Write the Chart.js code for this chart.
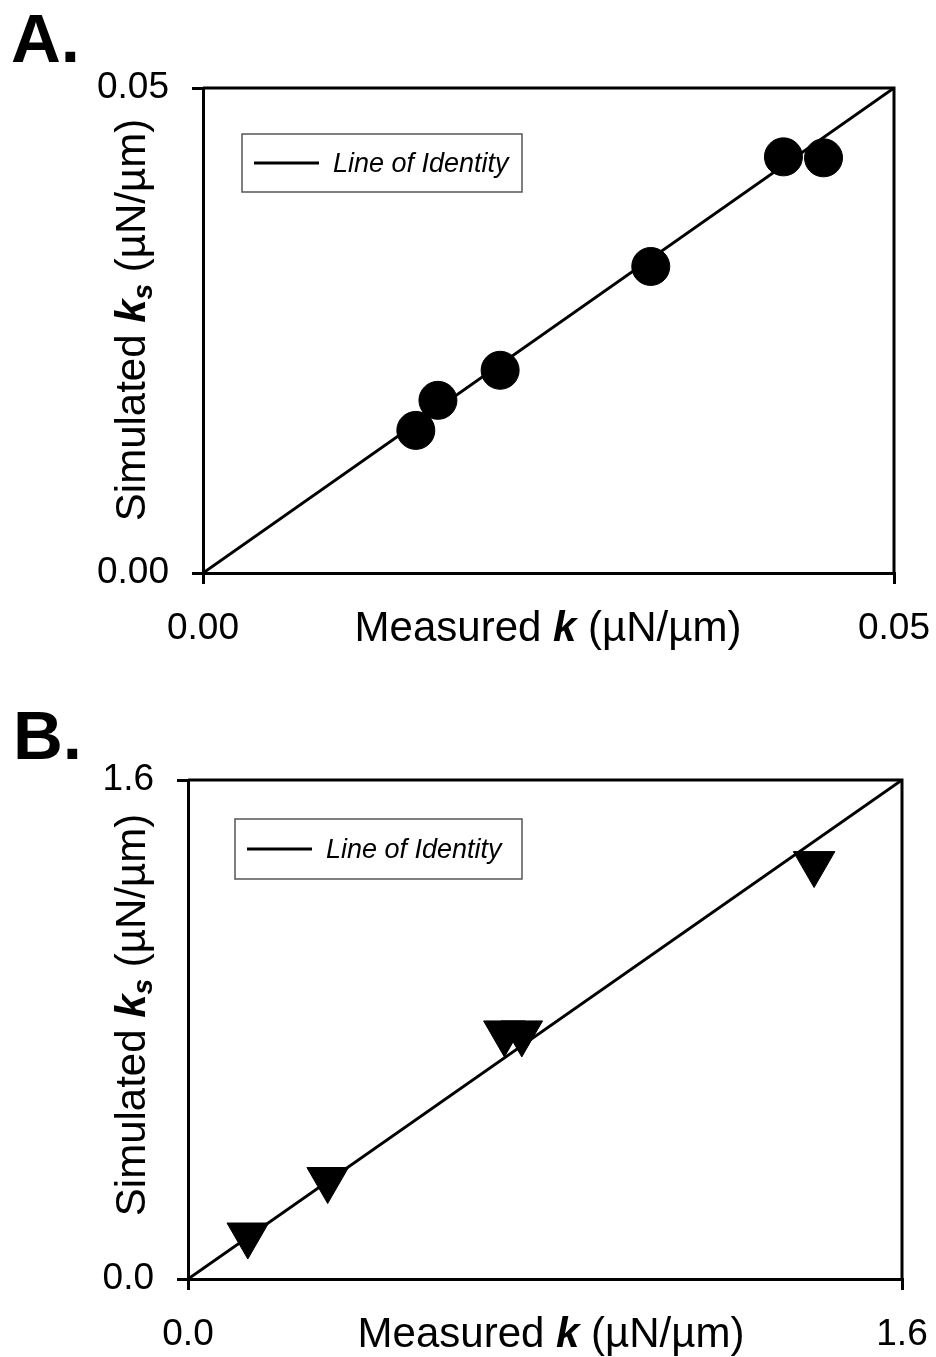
<!DOCTYPE html>
<html>
<head>
<meta charset="utf-8">
<title>Measured vs simulated k</title>
<script src="https://cdn.jsdelivr.net/npm/chart.js@4/dist/chart.umd.min.js"></script>
<style>
  body { margin: 0; background: #fff; }
  canvas { display: block; }
</style>
</head>
<body>
<canvas id="panelA" width="936" height="690"></canvas>
<canvas id="panelB" width="936" height="667"></canvas>
<script>
// panel A: spring constants, circles
const measuredA = [0.0154, 0.0170, 0.0215, 0.0324, 0.0420, 0.0449];
const simulatedA = [0.0147, 0.0178, 0.0209, 0.0316, 0.0429, 0.0428];
const axisMaxA = 0.05;

// panel B: spring constants, triangles
const measuredB = [0.134, 0.313, 0.709, 0.748, 1.403];
const simulatedB = [0.141, 0.319, 0.789, 0.789, 1.332];
const axisMaxB = 1.6;

const identityLabel = "Line of Identity";
const FONT = "'Liberation Sans', Arial, Helvetica, sans-serif";

// draws a run of text pieces with different fonts
function drawRich(ctx, parts, x, y) {
  let total = 0;
  parts.forEach(p => { ctx.font = p.font; total += ctx.measureText(p.text).width; });
  let cx = x - total / 2;
  parts.forEach(p => {
    ctx.font = p.font;
    ctx.fillText(p.text, cx, y + (p.dy || 0));
    cx += ctx.measureText(p.text).width;
  });
}

function extras(opts) {
  return {
    id: 'extras',
    afterDraw(chart) {
      const ctx = chart.ctx;
      const a = chart.chartArea;
      ctx.save();
      // frame (top & right sides)
      ctx.strokeStyle = '#000';
      ctx.lineWidth = 3;
      ctx.beginPath();
      ctx.moveTo(a.left, a.top);
      ctx.lineTo(a.right, a.top);
      ctx.lineTo(a.right, a.bottom);
      ctx.stroke();

      // legend box
      const lx = a.left + opts.legX, ly = a.top + opts.legY;
      ctx.fillStyle = '#fff';
      ctx.fillRect(lx, ly, opts.legW, opts.legH);
      ctx.strokeStyle = '#555';
      ctx.lineWidth = 1.5;
      ctx.strokeRect(lx, ly, opts.legW, opts.legH);
      ctx.strokeStyle = '#000';
      ctx.lineWidth = 3;
      ctx.beginPath();
      ctx.moveTo(lx + 12, ly + opts.legH / 2);
      ctx.lineTo(lx + 77, ly + opts.legH / 2);
      ctx.stroke();
      ctx.fillStyle = '#000';
      ctx.font = 'italic 27px ' + FONT;
      ctx.textBaseline = 'middle';
      ctx.textAlign = 'left';
      ctx.fillText(identityLabel, lx + 91, ly + opts.legH / 2 + 1);

      // panel letter
      ctx.textBaseline = 'alphabetic';
      ctx.font = 'bold 69px ' + FONT;
      ctx.fillText(opts.letter, opts.letterX, opts.letterY);

      // x title
      const norm = '42px ' + FONT, bi = 'italic bold 42px ' + FONT;
      drawRich(ctx, [
        { text: 'Measured ', font: norm },
        { text: 'k', font: bi },
        { text: ' (\u00b5N/\u00b5m)', font: norm }
      ], opts.xTitleX, opts.xTitleY);

      // y title, rotated
      ctx.translate(opts.yTitleX, opts.yTitleY);
      ctx.rotate(-Math.PI / 2);
      drawRich(ctx, [
        { text: 'Simulated ', font: norm },
        { text: 'k', font: bi },
        { text: 's', font: 'italic bold 28px ' + FONT, dy: 7 },
        { text: ' (\u00b5N/\u00b5m)', font: norm }
      ], 0, 0);
      ctx.restore();
    }
  };
}

function makePanel(id, xs, ys, max, decimals, marker, layout) {
  const pts = xs.map((x, i) => ({ x: x, y: ys[i] }));
  const tickFont = { family: FONT, size: 37 };
  const axis = (fit) => ({
    type: 'linear',
    min: 0,
    max: max,
    afterFit: fit,
    ticks: {
      stepSize: max,
      autoSkip: false,
      maxRotation: 0,
      color: '#000',
      font: tickFont,
      padding: 23,
      callback: v => Number(v).toFixed(decimals)
    },
    grid: { drawOnChartArea: false, drawTicks: true, tickLength: 11, color: '#000', lineWidth: 3 },
    border: { display: true, color: '#000', width: 3 }
  });

  return new Chart(document.getElementById(id), {
    type: 'scatter',
    data: {
      datasets: [
        {
          type: 'line',
          label: identityLabel,
          data: [{ x: 0, y: 0 }, { x: max, y: max }],
          borderColor: '#000',
          borderWidth: 3,
          pointRadius: 0,
          order: 2
        },
        {
          label: 'data',
          data: pts,
          pointStyle: marker.style,
          rotation: marker.rotation,
          pointRadius: marker.radius,
          backgroundColor: '#000',
          borderColor: '#000',
          borderWidth: 1,
          order: 1
        }
      ]
    },
    options: {
      responsive: false,
      animation: false,
      layout: { padding: { left: 0, right: layout.right, top: layout.top, bottom: 0 } },
      plugins: { legend: { display: false }, tooltip: { enabled: false } },
      scales: {
        x: axis(s => {
          s.height = layout.xAxisH;
          s.paddingLeft = 0; s.paddingRight = 0;
        }),
        y: axis(s => {
          s.width = layout.yAxisW;
          s.paddingTop = 0; s.paddingBottom = 0;
        })
      }
    },
    plugins: [extras(layout)]
  });
}

makePanel('panelA', measuredA, simulatedA, axisMaxA, 2,
  { style: 'circle', rotation: 0, radius: 19 },
  {
    right: 42, top: 88, xAxisH: 117, yAxisW: 203,
    legX: 39, legY: 46, legW: 280, legH: 58,
    letter: 'A.', letterX: 11, letterY: 62,
    xTitleX: 548, xTitleY: 641,
    yTitleX: 145, yTitleY: 320
  });

makePanel('panelB', measuredB, simulatedB, axisMaxB, 1,
  { style: 'triangle', rotation: 180, radius: 24 },
  {
    right: 34, top: 90, xAxisH: 78, yAxisW: 188,
    legX: 47, legY: 39, legW: 287, legH: 60,
    letter: 'B.', letterX: 13, letterY: 69,
    xTitleX: 551, xTitleY: 657,
    yTitleX: 145, yTitleY: 325
  });
</script>
</body>
</html>
